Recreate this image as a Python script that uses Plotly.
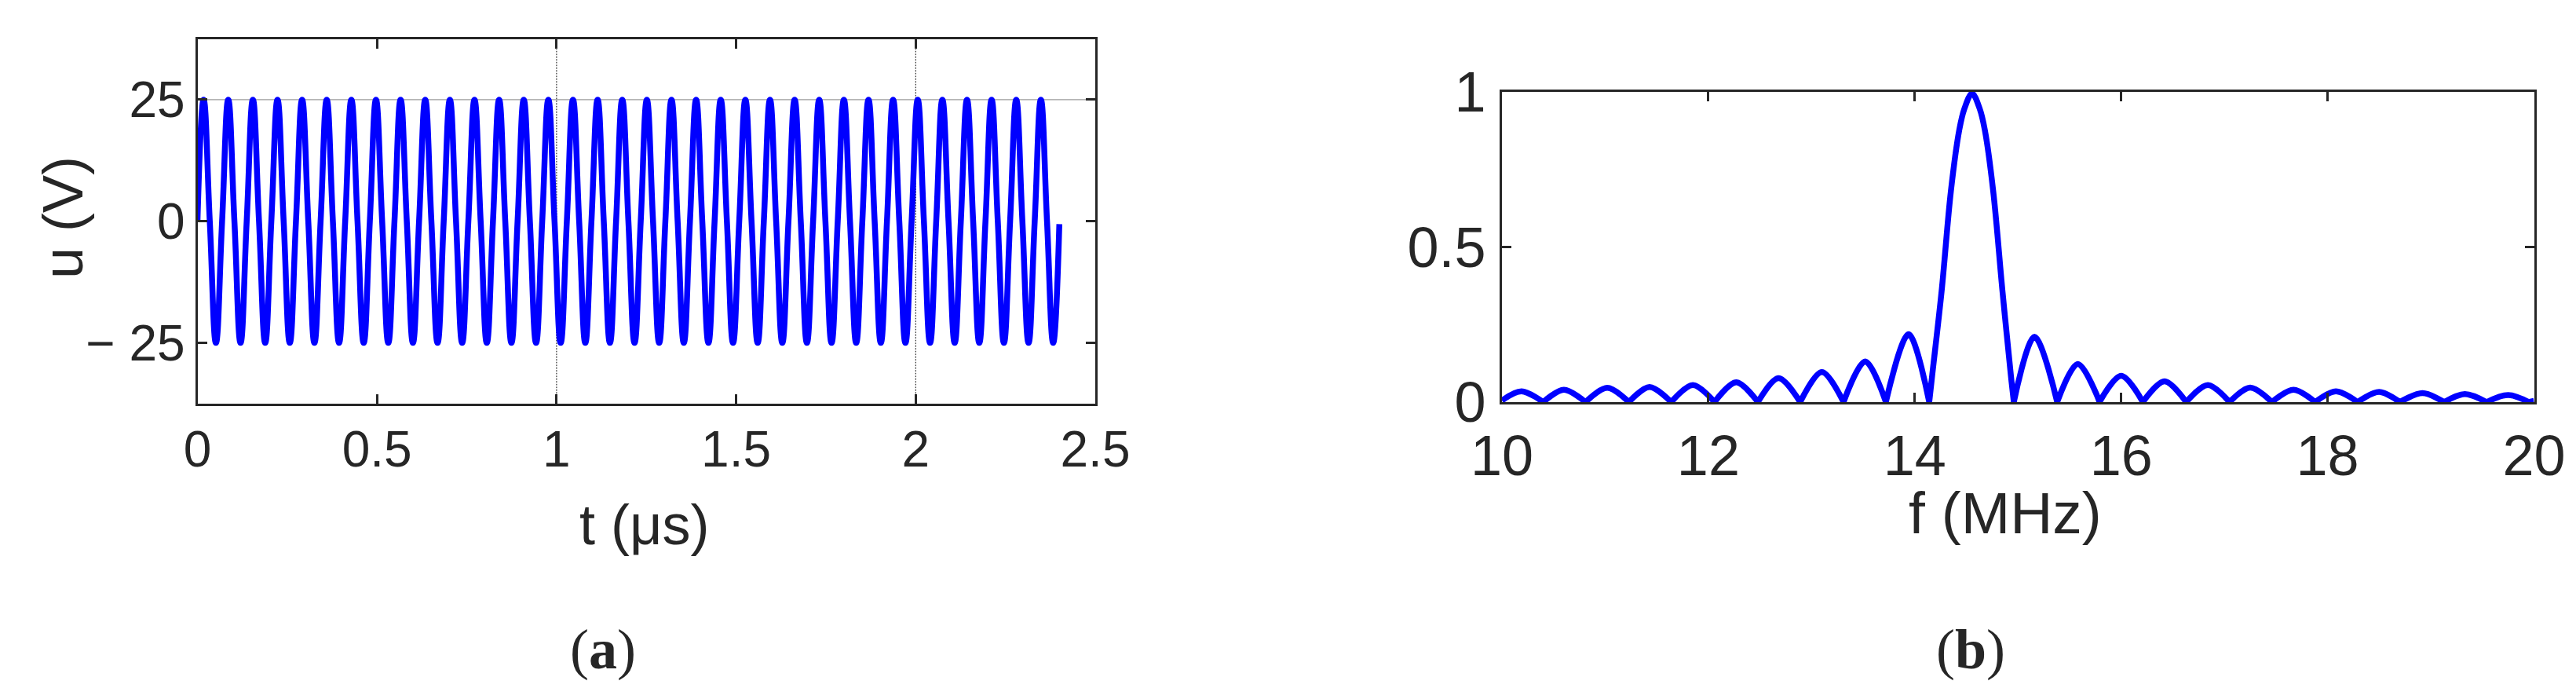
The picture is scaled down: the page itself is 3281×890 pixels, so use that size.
import plotly.graph_objects as go

# ---- panel (a): excitation burst, read at quarter-period points ----
t_us = [
    0.0000, 0.0171, 0.0343, 0.0514, 0.0686, 0.0857, 0.1029, 0.1200, 0.1371, 0.1543, 0.1714, 0.1886, 0.2057, 0.2229,
    0.2400, 0.2571, 0.2743, 0.2914, 0.3086, 0.3257, 0.3429, 0.3600, 0.3771, 0.3943, 0.4114, 0.4286, 0.4457, 0.4629,
    0.4800, 0.4971, 0.5143, 0.5314, 0.5486, 0.5657, 0.5829, 0.6000, 0.6171, 0.6343, 0.6514, 0.6686, 0.6857, 0.7029,
    0.7200, 0.7371, 0.7543, 0.7714, 0.7886, 0.8057, 0.8229, 0.8400, 0.8571, 0.8743, 0.8914, 0.9086, 0.9257, 0.9429,
    0.9600, 0.9771, 0.9943, 1.0114, 1.0286, 1.0457, 1.0629, 1.0800, 1.0971, 1.1143, 1.1314, 1.1486, 1.1657, 1.1829,
    1.2000, 1.2171, 1.2343, 1.2514, 1.2686, 1.2857, 1.3029, 1.3200, 1.3371, 1.3543, 1.3714, 1.3886, 1.4057, 1.4229,
    1.4400, 1.4571, 1.4743, 1.4914, 1.5086, 1.5257, 1.5429, 1.5600, 1.5771, 1.5943, 1.6114, 1.6286, 1.6457, 1.6629,
    1.6800, 1.6971, 1.7143, 1.7314, 1.7486, 1.7657, 1.7829, 1.8000, 1.8171, 1.8343, 1.8514, 1.8686, 1.8857, 1.9029,
    1.9200, 1.9371, 1.9543, 1.9714, 1.9886, 2.0057, 2.0229, 2.0400, 2.0571, 2.0743, 2.0914, 2.1086, 2.1257, 2.1429,
    2.1600, 2.1771, 2.1943, 2.2114, 2.2286, 2.2457, 2.2629, 2.2800, 2.2971, 2.3143, 2.3314, 2.3486, 2.3657, 2.3829,
    2.4000,
]
u_v = [
    0, 25, 0, -25, 0, 25, 0, -25, 0, 25, 0, -25, 0, 25, 0, -25, 0, 25, 0, -25, 0, 25, 0, -25, 0, 25, 0, -25,
    0, 25, 0, -25, 0, 25, 0, -25, 0, 25, 0, -25, 0, 25, 0, -25, 0, 25, 0, -25, 0, 25, 0, -25, 0, 25, 0, -25,
    0, 25, 0, -25, 0, 25, 0, -25, 0, 25, 0, -25, 0, 25, 0, -25, 0, 25, 0, -25, 0, 25, 0, -25, 0, 25, 0, -25,
    0, 25, 0, -25, 0, 25, 0, -25, 0, 25, 0, -25, 0, 25, 0, -25, 0, 25, 0, -25, 0, 25, 0, -25, 0, 25, 0, -25,
    0, 25, 0, -25, 0, 25, 0, -25, 0, 25, 0, -25, 0, 25, 0, -25, 0, 25, 0, -25, 0, 25, 0, -25, 0, 25, 0, -25,
    -0.6,
]
t_ticks = [0, 0.5, 1, 1.5, 2, 2.5]
t_ticktext = ["0", "0.5", "1", "1.5", "2", "2.5"]
u_ticks = [-25, 0, 25]
u_ticktext = ["\u2212 25", "0", "25"]
t_grid = [1, 2]
u_grid = [25]

# ---- panel (b): normalised spectrum, lobes read between zeros ----
left_zero_f = [10.40, 10.81, 11.23, 11.64, 12.06, 12.48, 12.89, 13.31, 13.72, 14.14]
left_peak_f = [10.19, 10.60, 11.02, 11.43, 11.85, 12.27, 12.68, 13.10, 13.52, 13.94]
left_peak_mag = [0.035, 0.040, 0.046, 0.049, 0.055, 0.064, 0.077, 0.097, 0.131, 0.219]
main_f = [14.17, 14.26, 14.35, 14.43, 14.48, 14.555, 14.63, 14.68, 14.76, 14.85, 14.93]
main_mag = [0.09, 0.357, 0.68, 0.875, 0.945, 0.995, 0.945, 0.875, 0.68, 0.357, 0.09]
right_zero_f = [14.96, 15.38, 15.79, 16.21, 16.63, 17.05, 17.46, 17.88, 18.29, 18.70, 19.13, 19.54, 19.95]
right_peak_f = [15.16, 15.58, 16.00, 16.42, 16.84, 17.25, 17.67, 18.08, 18.50, 18.92, 19.33, 19.75]
right_peak_mag = [0.211, 0.123, 0.085, 0.067, 0.055, 0.047, 0.040, 0.035, 0.033, 0.029, 0.026, 0.023]
edge_f = [10.0, 20.0]
edge_mag = [0.005, 0.004]
zero_mag = 0.0
f_ticks = [10, 12, 14, 16, 18, 20]
f_ticktext = ["10", "12", "14", "16", "18", "20"]
mag_ticks = [0, 0.5, 1]
mag_ticktext = ["0", "0.5", "1"]

# zeros are repeated so the spline keeps a sharp notch there
spec_f, spec_mag = [edge_f[0]], [edge_mag[0]]
for pf, pm, z in zip(left_peak_f, left_peak_mag, left_zero_f):
    spec_f += [pf, z, z]
    spec_mag += [pm, zero_mag, zero_mag]
spec_f += main_f
spec_mag += main_mag
spec_f += [right_zero_f[0], right_zero_f[0]]
spec_mag += [zero_mag, zero_mag]
for pf, pm, z in zip(right_peak_f, right_peak_mag, right_zero_f[1:]):
    spec_f += [pf, z, z]
    spec_mag += [pm, zero_mag, zero_mag]
spec_f.append(edge_f[1])
spec_mag.append(edge_mag[1])

W, H = 3281, 890
INK = "#262626"
BLUE = "#0000FF"
SANS = "Liberation Sans, Arial, sans-serif"
SERIF = "Liberation Serif, Times New Roman, serif"

fig = go.Figure()

fig.add_trace(go.Scatter(
    x=t_us, y=u_v, mode="lines", xaxis="x", yaxis="y",
    line=dict(color=BLUE, width=7.5, shape="spline", smoothing=1.3, simplify=False),
    showlegend=False,
))
fig.add_trace(go.Scatter(
    x=spec_f, y=spec_mag, mode="lines", xaxis="x2", yaxis="y2",
    line=dict(color=BLUE, width=7.5, shape="spline", smoothing=1.0, simplify=False),
    showlegend=False,
))

axis_style = dict(
    showline=True, linecolor=INK, linewidth=3, mirror="ticks",
    ticks="inside", ticklen=12, tickwidth=3, tickcolor=INK,
    showgrid=False, zeroline=False, automargin=False,
)

fig.update_layout(
    width=W, height=H,
    template="none",
    paper_bgcolor="white",
    plot_bgcolor="white",
    margin=dict(l=0, r=0, t=0, b=0, pad=0),
    showlegend=False,
    xaxis=dict(
        domain=[243.5 / W, 1387 / W], anchor="y", range=[0, 2.5],
        tickvals=t_ticks, ticktext=t_ticktext,
        tickfont=dict(family=SANS, size=64, color=INK),
        **axis_style,
    ),
    yaxis=dict(
        domain=[1 - 506 / H, 1 - 41.5 / H], anchor="x", range=[-37.5, 37.5],
        tickvals=u_ticks, ticktext=u_ticktext,
        tickfont=dict(family=SANS, size=64, color=INK),
        **axis_style,
    ),
    xaxis2=dict(
        domain=[1905 / W, 3219.5 / W], anchor="y2", range=[10, 20],
        tickvals=f_ticks, ticktext=f_ticktext,
        tickfont=dict(family=SANS, size=72, color=INK),
        ticklabelstandoff=4,
        **axis_style,
    ),
    yaxis2=dict(
        domain=[1 - 504 / H, 1 - 109 / H], anchor="x2", range=[0, 1],
        tickvals=mag_ticks, ticktext=mag_ticktext,
        tickfont=dict(family=SANS, size=72, color=INK),
        ticklabelstandoff=3,
        **axis_style,
    ),
)

# dotted grid lines that appear in panel (a)
for tg in t_grid:
    fig.add_shape(type="line", xref="x", yref="y domain", x0=tg, x1=tg, y0=0, y1=1,
                  line=dict(color="#000000", width=1, dash="1px,1px"), layer="below")
for ug in u_grid:
    fig.add_shape(type="line", xref="x domain", yref="y", x0=0, x1=1, y0=ug, y1=ug,
                  line=dict(color="#000000", width=1, dash="1px,1px"), layer="below")

def label(text, x, y, size, family=SANS, angle=0):
    fig.add_annotation(text=text, x=x / W, y=1 - y / H, xref="paper", yref="paper",
                       xanchor="center", yanchor="middle", showarrow=False, textangle=angle,
                       font=dict(family=family, size=size, color=INK))

label("t (\u03bcs)", 812, 660, 72)
label("u (V)", 72, 269, 72, angle=-90)
label("f (MHz)", 2546, 645, 75)
label("(<b>a</b>)", 760, 819, 72, family=SERIF)
label("(<b>b</b>)", 2502, 819, 72, family=SERIF)

fig.write_html("out.html")
